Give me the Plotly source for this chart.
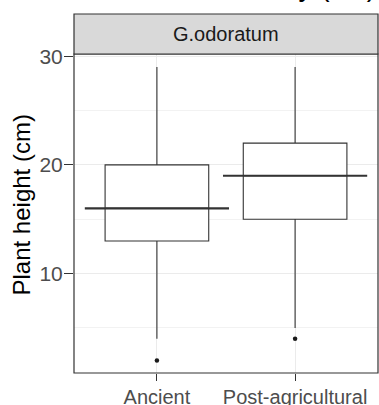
import plotly.graph_objects as go

# ---- data ----
categories = ["Ancient", "Post-agricultural"]
q1 = [13, 15]
median = [16, 19]
q3 = [20, 22]
lower_whisker = [4, 5]
upper_whisker = [29, 29]
outlier_x = ["Ancient", "Post-agricultural"]
outlier_y = [2, 4]
y_ticks = [10, 20, 30]
y_minor = [5, 15, 25]
facet_label = "G.odoratum"
y_title = "Plant height (cm)"
top_title = "Stem size at maturity (cm)"

FONT = "Liberation Sans, Arial, sans-serif"
DARK = "#333333"

fig = go.Figure()

fig.add_trace(go.Box(
    x=categories, q1=q1, median=median, q3=q3,
    lowerfence=lower_whisker, upperfence=upper_whisker,
    fillcolor="white", line=dict(color=DARK, width=1.1),
    boxpoints=False, showlegend=False, whiskerwidth=0,
))

# thicker median lines (ggplot fatten)
fig.add_trace(go.Scatter(
    x=categories, y=median, mode="markers", showlegend=False,
    marker=dict(symbol="line-ew", size=103, line=dict(color=DARK, width=2.2)),
    hoverinfo="skip",
))

# outliers
fig.add_trace(go.Scatter(
    x=outlier_x, y=outlier_y, mode="markers", showlegend=False,
    marker=dict(color="#1A1A1A", size=4.5),
))

W, H = 379, 405
ml, mr, mt, mb = 74, 1, 54, 32
ph = H - mt - mb

fig.update_layout(
    width=W, height=H,
    margin=dict(l=ml, r=mr, t=mt, b=mb),
    paper_bgcolor="white", plot_bgcolor="white",
    font=dict(family=FONT, size=20, color="#4D4D4D"),
    boxgap=0.25, boxgroupgap=0,
    xaxis=dict(
        type="category", range=[-0.6, 1.6], automargin=False,
        showgrid=True, gridcolor="#EBEBEB", gridwidth=1.1,
        ticks="outside", ticklen=7, tickwidth=1.1, tickcolor=DARK,
        tickfont=dict(size=20, color="#4D4D4D", family=FONT),
        ticklabelstandoff=-1,
        showline=False, zeroline=False,
    ),
    yaxis=dict(
        range=[0.85, 30.2], tickvals=y_ticks, automargin=False,
        showgrid=True, gridcolor="#EBEBEB", gridwidth=1.1,
        minor=dict(tickvals=y_minor, showgrid=True, gridcolor="#F2F2F2", gridwidth=0.6, ticks=""),
        ticks="outside", ticklen=9, tickwidth=1.1, tickcolor=DARK,
        tickfont=dict(size=21, color="#4D4D4D", family=FONT),
        ticklabelstandoff=-3,
        showline=False, zeroline=False,
    ),
    shapes=[
        dict(type="rect", xref="paper", yref="paper", x0=0, x1=1, y0=0, y1=1,
             line=dict(color=DARK, width=1.2), fillcolor="rgba(0,0,0,0)", layer="above"),
        dict(type="rect", xref="paper", yref="paper", x0=0, x1=1,
             y0=1, y1=1 + (mt - 14) / ph,
             line=dict(color=DARK, width=1.2), fillcolor="#D9D9D9", layer="above"),
    ],
    annotations=[
        dict(text=facet_label, xref="paper", yref="paper", x=0.5,
             y=1 + (mt - 14) / ph / 2, xanchor="center", yanchor="middle",
             showarrow=False, font=dict(size=20, color="#1A1A1A", family=FONT)),
        dict(text=y_title, xref="paper", yref="paper",
             x=(21 - ml) / (W - ml - mr), y=(H - mb - 205.5) / ph,
             xanchor="center", yanchor="middle", textangle=-90,
             showarrow=False, font=dict(size=24, color="black", family=FONT)),
        dict(text=top_title, xref="paper", yref="paper",
             x=(378 - ml) / (W - ml - mr), y=1 + (mt + 14) / ph,
             xanchor="right", yanchor="middle",
             showarrow=False, font=dict(size=28, color="black", family=FONT)),
    ],
)

fig.write_html("out.html")
